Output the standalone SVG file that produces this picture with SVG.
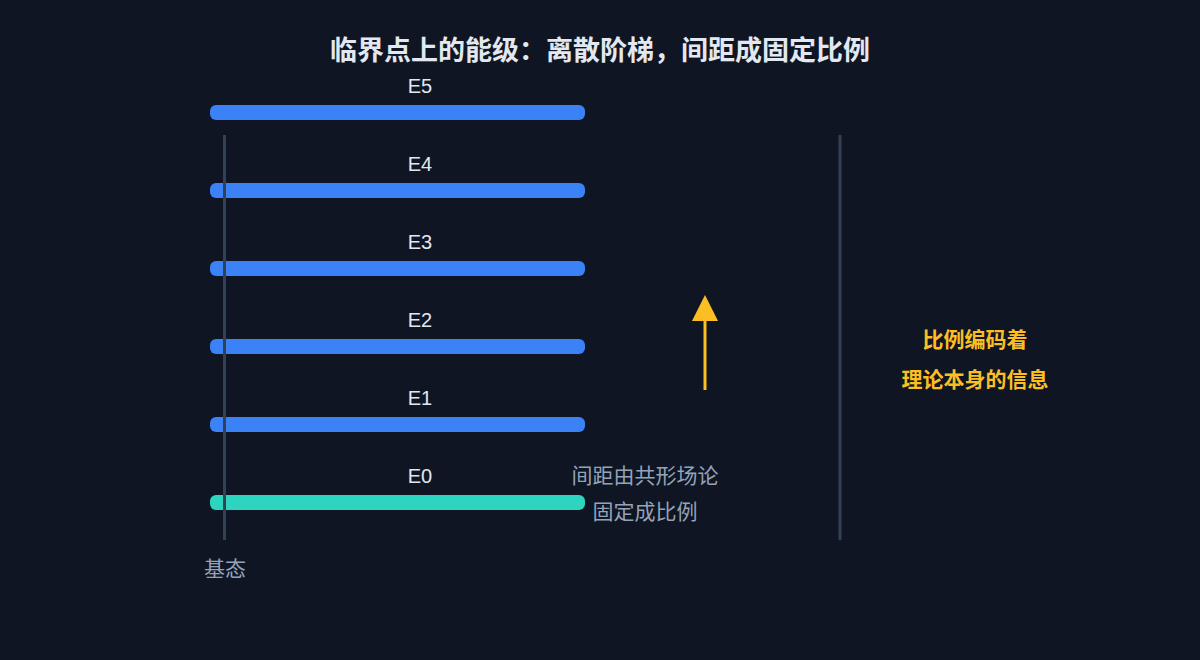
<svg xmlns="http://www.w3.org/2000/svg" width="1200" height="660" viewBox="0 0 1200 660">
<defs>
<style>
.bg{fill:#0f1523}
.t{font-family:"Liberation Sans","Noto Sans CJK SC",sans-serif;}
.title{font-size:27px;font-weight:700;fill:#e2e8f0;text-anchor:middle}
.lvl{font-size:20px;fill:#e2e8f0;text-anchor:middle}
.bar{fill:#3b82f6}
.bar0{fill:#2dd4bf}
.axis{stroke:#334155;stroke-width:3;fill:none}
.note{font-size:21px;fill:#94a3b8;text-anchor:middle}
.gold{font-size:21px;font-weight:600;fill:#fbbf24;text-anchor:middle}
</style>
</defs>
<rect class="bg" x="0" y="0" width="1200" height="660"/>
<text class="t title" x="600" y="60">临界点上的能级：离散阶梯，间距成固定比例</text>
<g id="levels">
<g id="E5"><rect class="bar" x="210" y="105" width="375" height="15" rx="6"/><text class="t lvl" x="420" y="93">E5</text></g>
<g id="E4"><rect class="bar" x="210" y="183" width="375" height="15" rx="6"/><text class="t lvl" x="420" y="171">E4</text></g>
<g id="E3"><rect class="bar" x="210" y="261" width="375" height="15" rx="6"/><text class="t lvl" x="420" y="249">E3</text></g>
<g id="E2"><rect class="bar" x="210" y="339" width="375" height="15" rx="6"/><text class="t lvl" x="420" y="327">E2</text></g>
<g id="E1"><rect class="bar" x="210" y="417" width="375" height="15" rx="6"/><text class="t lvl" x="420" y="405">E1</text></g>
<g id="E0"><rect class="bar0" x="210" y="495" width="375" height="15" rx="6"/><text class="t lvl" x="420" y="483">E0</text></g>
</g>
<g id="connectors">
<line class="axis" x1="224.5" y1="135" x2="224.5" y2="540"/>
<line class="axis" x1="840" y1="135" x2="840" y2="540"/>
<line x1="705" y1="390" x2="705" y2="318" stroke="#fbbf24" stroke-width="3"/>
<polygon points="705,295 718,321 692,321" fill="#fbbf24"/>
</g>
<g id="labels">
<text class="t note" x="225" y="576">基态</text>
<text class="t note" x="645" y="483">间距由共形场论</text>
<text class="t note" x="645" y="519">固定成比例</text>
<text class="t gold" x="975" y="347">比例编码着</text>
<text class="t gold" x="975" y="387">理论本身的信息</text>
</g>
</svg>
